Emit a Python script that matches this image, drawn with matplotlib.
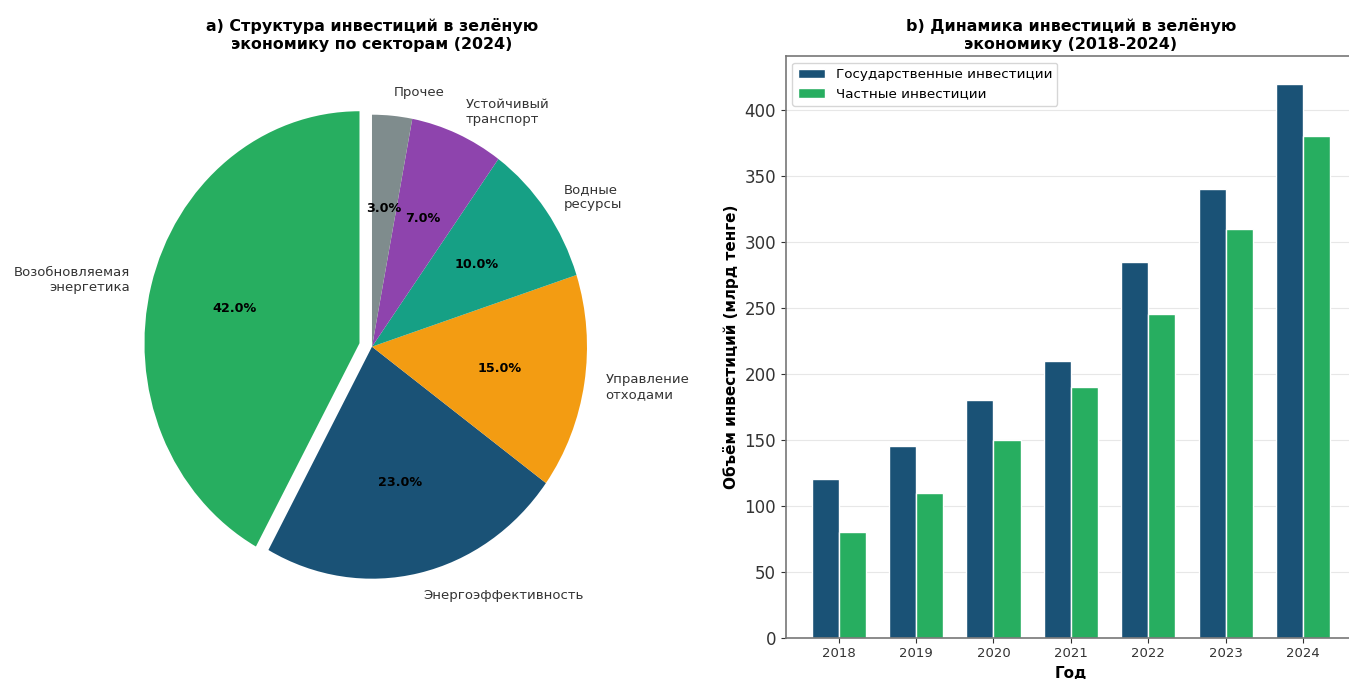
import matplotlib
matplotlib.use("Agg")
import matplotlib.pyplot as plt
import numpy as np

# pie data (2024)
sectors = ["Возобновляемая\nэнергетика", "Энергоэффективность", "Управление\nотходами",
           "Водные\nресурсы", "Устойчивый\nтранспорт", "Прочее"]
shares = [42, 23, 15, 10, 7, 3]
pie_colors = ["#27ae60", "#1a5276", "#f39c12", "#16a085", "#8e44ad", "#7f8c8d"]

# bar data
years = ["2018", "2019", "2020", "2021", "2022", "2023", "2024"]
gov = [120, 145, 180, 210, 285, 340, 420]
private = [80, 110, 150, 190, 245, 310, 380]

fig = plt.figure(figsize=(13.49, 6.79), dpi=100)

# a) pie
ax1 = fig.add_axes([0.0845, 0.0794, 0.3825, 0.820])
wedges, texts, autotexts = ax1.pie(
    shares, labels=sectors, colors=pie_colors, autopct="%1.1f%%",
    startangle=90, explode=[0.06, 0, 0, 0, 0, 0],
    textprops={"fontsize": 9.5, "color": "#333333"})
for t in autotexts:
    t.set_fontweight("bold")
    t.set_color("black")
    t.set_fontsize(9.2)
ax1.set_aspect("auto")
ax1.set_xlim(-1.2, 1.2)
ax1.set_ylim(-1.2, 1.2)
ax1.set_title("a) Структура инвестиций в зелёную\nэкономику по секторам (2024)",
              fontsize=11.4, fontweight="bold", pad=14)

# b) bars
ax2 = fig.add_axes([0.5824, 0.0608, 0.4228, 0.857])
x = np.arange(len(years))
w = 0.35
ax2.bar(x - w / 2, gov, w, color="#1a5276", edgecolor="white", linewidth=1,
        label="Государственные инвестиции")
ax2.bar(x + w / 2, private, w, color="#27ae60", edgecolor="white", linewidth=1,
        label="Частные инвестиции")
ax2.set_xticks(x)
ax2.set_xticklabels(years)
ax2.tick_params(axis="x", labelsize=9.5, colors="#333333")
ax2.tick_params(axis="y", labelsize=12, colors="#333333")
ax2.grid(axis="y", alpha=0.3)
ax2.set_axisbelow(True)
for s in ax2.spines.values():
    s.set_color("#777777")
    s.set_linewidth(1.2)
ax2.set_xlabel("Год", fontsize=11, fontweight="bold")
ax2.set_ylabel("Объём инвестиций (млрд тенге)", fontsize=11, fontweight="bold")
ax2.set_title("b) Динамика инвестиций в зелёную\nэкономику (2018-2024)",
              fontsize=11.4, fontweight="bold", pad=5)
ax2.legend(loc="upper left", fontsize=9.7)

fig.savefig("out.png", dpi=100)
